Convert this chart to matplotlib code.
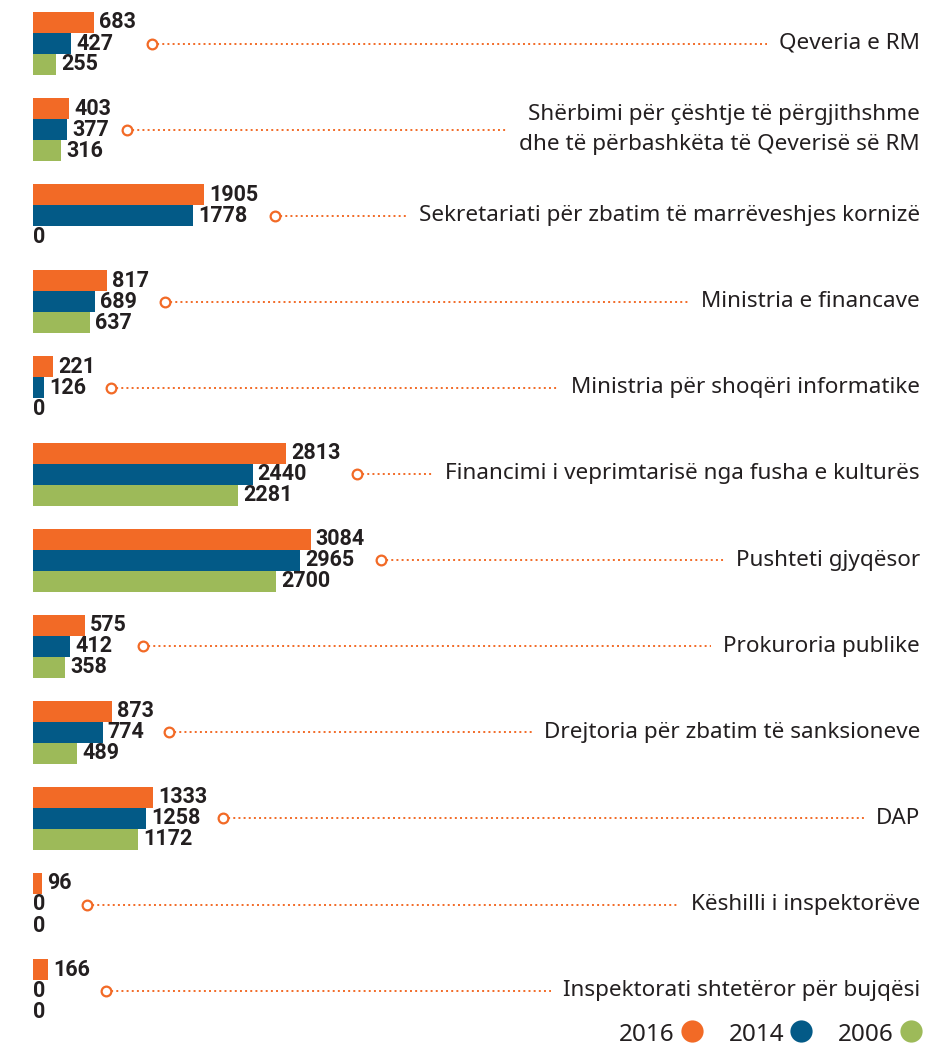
import matplotlib
matplotlib.use('Agg')
import matplotlib.pyplot as plt
import numpy as np

categories = [
    'Qeveria e RM',
    'Shërbimi për çështje të përgjithshme\ndhe të përbashkëta të Qeverisë së RM',
    'Sekretariati për zbatim të marrëveshjes kornizë',
    'Ministria e financave',
    'Ministria për shoqëri informatike',
    'Financimi i veprimtarisë nga fusha e kulturës',
    'Pushteti gjyqësor',
    'Prokuroria publike',
    'Drejtoria për zbatim të sanksioneve',
    'DAP',
    'Këshilli i inspektorëve',
    'Inspektorati shtetëror për bujqësi',
]
v2016 = [683, 403, 1905, 817, 221, 2813, 3084, 575, 873, 1333, 96, 166]
v2014 = [427, 377, 1778, 689, 126, 2440, 2965, 412, 774, 1258, 0, 0]
v2006 = [255, 316, 0, 637, 0, 2281, 2700, 358, 489, 1172, 0, 0]
years = ['2016', '2014', '2006']

colors = ['#F26A26', '#035A87', '#9DBA59']
txt = '#231F20'
font = 'Roboto'
label_font = 'Noto Sans'

W, H = 951, 1045
fig = plt.figure(figsize=(W / 100, H / 100), dpi=100)
left = 33
ax = fig.add_axes([left / W, 0, 1 - left / W, 1])
scale = 0.09  # px per unit
ax.set_xlim(0, (W - left) / scale)
pitch, y0 = 86.1, 43.5
ax.set_ylim((H - y0) / pitch, -y0 / pitch)
ax.axis('off')

bh = 21 / pitch
y = np.arange(len(categories))
series = [v2016, v2014, v2006]
for k, vals in enumerate(series):
    ax.barh(y + (k - 1) * bh, vals, height=bh, color=colors[k], linewidth=0)

renderer = fig.canvas.get_renderer()
inv = ax.transData.inverted()

for i, cat in enumerate(categories):
    rights = []
    for k, vals in enumerate(series):
        v = vals[i]
        pad = 3.6 if v > 0 else 0
        t = ax.annotate(str(v), (v, i + (k - 1) * bh), xytext=(pad, 0),
                        textcoords='offset points', va='center', ha='left',
                        fontsize=15.5, fontweight='bold', color=txt,
                        family=font)
        rights.append(t.get_window_extent(renderer).x1)
    lab = ax.text((920 - left) / (W - left), i, cat, transform=ax.get_yaxis_transform(),
                  ha='right', va='center', fontsize=16.2, color=txt, family=label_font,
                  linespacing=1.6)
    x_start = inv.transform((max(rights) + 16, 0))[0]
    x_end = inv.transform((lab.get_window_extent(renderer).x0 - 12, 0))[0]
    ax.plot([x_start, x_end], [i, i], ls=':', lw=1.4, color=colors[0])
    ax.plot([x_start], [i], 'o', ms=7, mfc='white', mec=colors[0], mew=1.6)

# legend
leg_x = [675, 784, 894]
for k, yr in enumerate(years):
    fig.text(leg_x[k] / W, 1 - 1041 / H, yr, ha='right', va='baseline',
             fontsize=17.5, color=txt, family=label_font)
    ax.plot([(leg_x[k] + 17) / W], [1 - 1031 / H], 'o', ms=16, color=colors[k],
            mec='none', transform=fig.transFigure, clip_on=False)

fig.savefig('out.png', dpi=100)
